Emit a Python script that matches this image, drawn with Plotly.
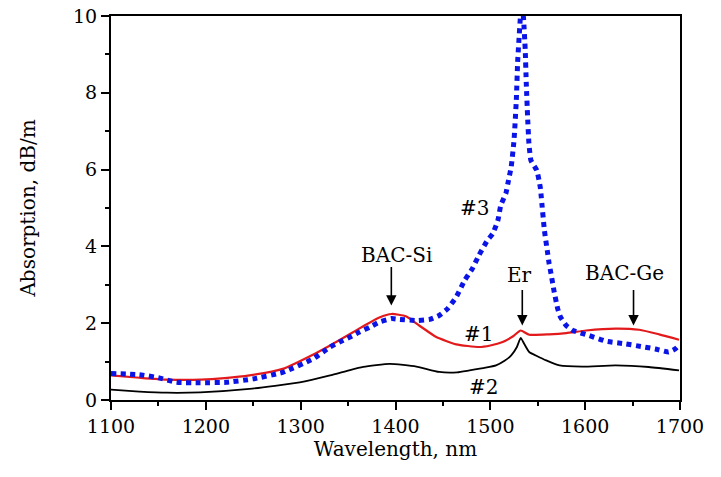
import plotly.graph_objects as go

# Sample #1 (red)
x1 = [1100, 1130, 1160, 1195, 1220, 1246, 1281, 1316, 1331, 1352, 1366, 1383, 1396, 1411, 1425,
      1443, 1464, 1488, 1500, 1513, 1524, 1532, 1541, 1562, 1580, 1601, 1632, 1657, 1678, 1699]
y1 = [0.64, 0.58, 0.53, 0.53, 0.57, 0.64, 0.81, 1.22, 1.42, 1.72, 1.92, 2.15, 2.24, 2.18, 1.94,
      1.64, 1.45, 1.38, 1.42, 1.51, 1.66, 1.81, 1.70, 1.71, 1.74, 1.81, 1.86, 1.83, 1.71, 1.57]

# Sample #2 (black)
x2 = [1100, 1130, 1159, 1194, 1246, 1299, 1331, 1352, 1366, 1394, 1422, 1446, 1465, 1478, 1495,
      1506, 1515, 1522, 1528, 1532, 1536, 1541, 1548, 1559, 1573, 1597, 1632, 1667, 1699]
y2 = [0.27, 0.22, 0.19, 0.20, 0.29, 0.46, 0.64, 0.78, 0.86, 0.94, 0.87, 0.73, 0.72, 0.77, 0.84,
      0.90, 1.02, 1.16, 1.38, 1.62, 1.45, 1.25, 1.16, 1.03, 0.90, 0.87, 0.90, 0.86, 0.77]

# Sample #3 (blue dotted)
x3 = [1100, 1130, 1150, 1169, 1194, 1222, 1250, 1281, 1313, 1331, 1341, 1352, 1362, 1373, 1383,
      1396, 1404, 1423, 1436, 1446, 1455, 1464, 1473, 1481, 1488, 1497, 1502.5, 1508, 1511,
      1516.5, 1518.5, 1522, 1525, 1527.4, 1528.8, 1531.6, 1533, 1535, 1536.8, 1537.9, 1539.3,
      1540.7, 1542.8, 1549, 1552.6, 1553.7, 1557, 1560, 1562, 1564, 1567, 1571, 1574, 1580, 1587,
      1604, 1622, 1643, 1660, 1674, 1688, 1695, 1699]
y3 = [0.69, 0.66, 0.58, 0.46, 0.45, 0.46, 0.55, 0.72, 1.07, 1.38, 1.51, 1.64, 1.77, 1.90, 2.03,
      2.12, 2.10, 2.07, 2.10, 2.20, 2.38, 2.68, 3.12, 3.42, 3.77, 4.16, 4.33, 4.68, 5.07,
      5.39, 5.64, 6.07, 6.77, 7.81, 8.81, 9.94, 10.4, 9.94, 9.11, 8.24, 7.37,
      6.68, 6.24, 5.98, 5.55, 5.29, 4.42, 3.90, 3.55, 3.29, 2.86, 2.38, 2.16, 1.94, 1.81,
      1.68, 1.53, 1.46, 1.39, 1.33, 1.25, 1.33, 1.42]

x_ticks = [1100, 1200, 1300, 1400, 1500, 1600, 1700]
y_ticks = [0, 2, 4, 6, 8, 10]

FONT = "DejaVu Serif"

fig = go.Figure()
fig.add_trace(go.Scatter(x=x2, y=y2, mode="lines", line=dict(color="black", width=1.8, shape="spline", smoothing=0.5),
                         showlegend=False))
fig.add_trace(go.Scatter(x=x1, y=y1, mode="lines", line=dict(color="#e31a1c", width=2.2, shape="spline", smoothing=0.5),
                         showlegend=False))
fig.add_trace(go.Scatter(x=x3, y=y3, mode="lines",
                         line=dict(color="#0a14e6", width=5, dash="5px,4.5px", shape="spline", smoothing=0.4),
                         showlegend=False))

# text labels
labels = [("BAC-Si", 1401.5, 3.77), ("Er", 1530.5, 3.25), ("BAC-Ge", 1641, 3.32),
          ("#3", 1483, 5.0), ("#1", 1487, 1.72), ("#2", 1493, 0.35)]
for t, x, y in labels:
    fig.add_annotation(x=x, y=y, text=t, showarrow=False, font=dict(family=FONT, size=20, color="black"))

# arrows
arrows = [(1395.6, 2.46, -40), (1533.7, 1.94, -37), (1651, 1.94, -37)]
for x, y, ay in arrows:
    fig.add_annotation(x=x, y=y, ax=0, ay=ay, text="", showarrow=True,
                       arrowhead=2, arrowsize=1.3, arrowwidth=1.6, arrowcolor="black")

axis_common = dict(showline=True, linecolor="black", linewidth=2, mirror=True,
                   ticks="outside", ticklen=8, tickwidth=2, tickcolor="black",
                   showgrid=False, zeroline=False,
                   tickfont=dict(family=FONT, size=19, color="black"))

fig.update_xaxes(range=[1100, 1700], tickvals=x_ticks,
                 minor=dict(dtick=50, ticks="outside", ticklen=4, tickwidth=2, tickcolor="black"),
                 title=dict(text="Wavelength, nm", font=dict(family=FONT, size=20, color="black"), standoff=4),
                 **axis_common)
fig.update_yaxes(range=[0, 10], tickvals=y_ticks,
                 minor=dict(dtick=1, ticks="outside", ticklen=4, tickwidth=2, tickcolor="black"),
                 title=dict(text="Absorption, dB/m", font=dict(family=FONT, size=20, color="black"), standoff=32),
                 **axis_common)

fig.update_layout(width=721, height=477, margin=dict(l=111, r=41, t=16, b=77, autoexpand=False),
                  plot_bgcolor="white", paper_bgcolor="white")

# remove the default page margin so the figure sits at the window's top-left corner
fig.write_html("out.html", config={"displayModeBar": False},
               post_script="document.body.style.margin='0';")
